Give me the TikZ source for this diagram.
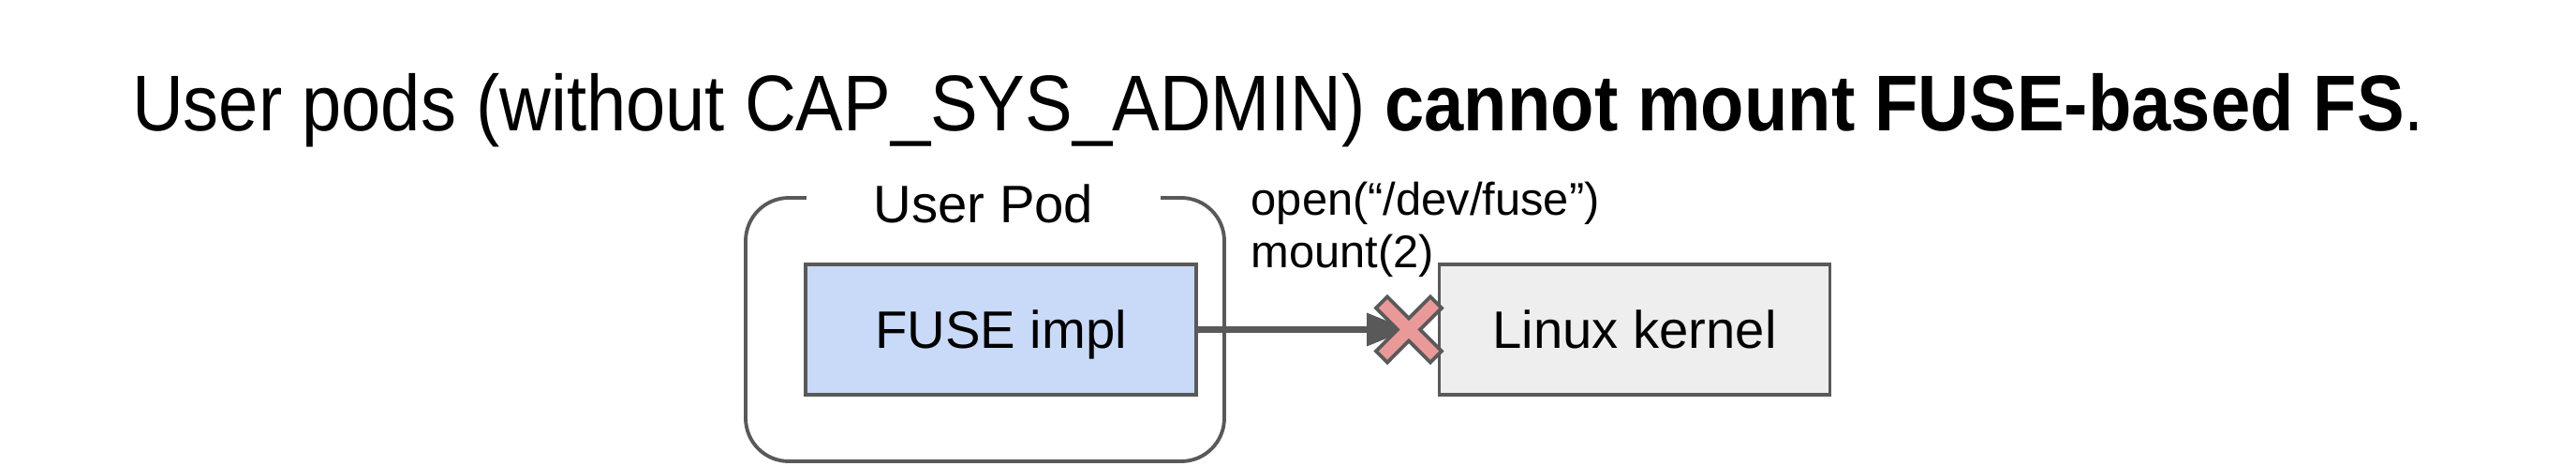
\documentclass[tikz,border=0pt]{standalone}
\usepackage{fontspec}
\setmainfont{Liberation Sans}
\newfontfamily\titlefont[FakeStretch=0.9]{Liberation Sans}
\usetikzlibrary{arrows.meta}
\definecolor{edgegray}{HTML}{595959}
\definecolor{implblue}{HTML}{C9DAF8}
\definecolor{kernelgray}{HTML}{EEEEEE}
\definecolor{denyred}{HTML}{EA9999}
\tikzset{
    block/.style={draw=edgegray, line width=1.1pt, minimum width=4.17cm, minimum height=1.39cm,
        text height=11.5pt, text depth=0pt, font=\fontsize{16}{19}\selectfont},
    callnote/.style={anchor=base west, inner sep=0pt, font=\fontsize{13.9}{16}\selectfont},
}
\begin{document}
\begin{tikzpicture}
    \useasboundingbox (0,0) rectangle (27.5,4.96);

    % Headline
    \node[anchor=base, inner sep=0pt, font=\titlefont\fontsize{24}{28}\selectfont] (title) at (13.645,3.56)
        {User pods (without CAP\_SYS\_ADMIN) \textbf{cannot mount FUSE-based FS}.};

    % Pod boundary, caption sits on the top edge
    \node[draw=edgegray, line width=1.1pt, rounded corners=0.46cm, minimum width=5.11cm, minimum height=2.81cm] (pod) at (10.515,1.445) {};
    \node[anchor=base, fill=white, inner xsep=0.715cm, inner ysep=2pt, font=\fontsize{16}{19}\selectfont] (podname) at (10.50,2.59) {User Pod};

    % Boxes
    \node[block, fill=implblue] (fuse) at (10.685,1.445) {FUSE impl};
    \node[block, fill=kernelgray] (kernel) at (17.45,1.445) {Linux kernel};

    % Blocked syscall
    \coordinate (stop) at (15.04,1.445);
    \draw[edgegray, line width=1.9pt, -{Triangle[length=0.45cm, width=0.34cm]}] (fuse.east) -- (stop);
    \filldraw[fill=denyred, draw=edgegray, line width=1.1pt, shift={(stop)}]
        (0,0.12) -- (0.23,0.35) -- (0.35,0.23) -- (0.12,0) -- (0.35,-0.23) -- (0.23,-0.35)
        -- (0,-0.12) -- (-0.23,-0.35) -- (-0.35,-0.23) -- (-0.12,0) -- (-0.35,0.23) -- (-0.23,0.35) -- cycle;
    \node[callnote] (open) at (13.35,2.67) {open(“/dev/fuse”)};
    \node[callnote] (mount) at (13.35,2.11) {mount(2)};
\end{tikzpicture}
\end{document}
